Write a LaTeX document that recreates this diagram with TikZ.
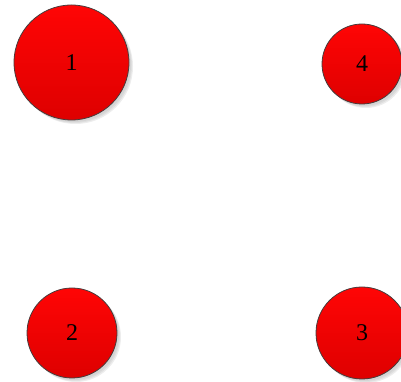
\documentclass[tikz,border=0pt]{standalone}
\usepackage{fontspec}
\setmainfont{Liberation Serif}
\definecolor{topred}{RGB}{255,5,5}
\definecolor{botred}{RGB}{222,0,0}
\definecolor{rim}{RGB}{70,60,60}
\begin{document}
\begin{tikzpicture}[x=1pt,y=1pt,
  ball/.style={circle, draw=rim, line width=0.8pt, top color=topred, bottom color=botred,
    inner sep=0pt, font=\fontsize{24}{24}\selectfont,
    preaction={fill=black, opacity=0.07, transform canvas={shift={(4,-4)}}},
    preaction={fill=black, opacity=0.06, transform canvas={shift={(3,-3)}}},
    preaction={fill=black, opacity=0.05, transform canvas={shift={(2,-2)}}}}]
\useasboundingbox (0,0) rectangle (401,382);
\node[ball, minimum size=115pt] (n1) at (71.5,319.5) {1};
\node[ball, minimum size=80pt] (n4) at (362,318) {4};
\node[ball, minimum size=90pt] (n2) at (72,49) {2};
\node[ball, minimum size=92pt] (n3) at (362,49) {3};
\end{tikzpicture}
\end{document}
